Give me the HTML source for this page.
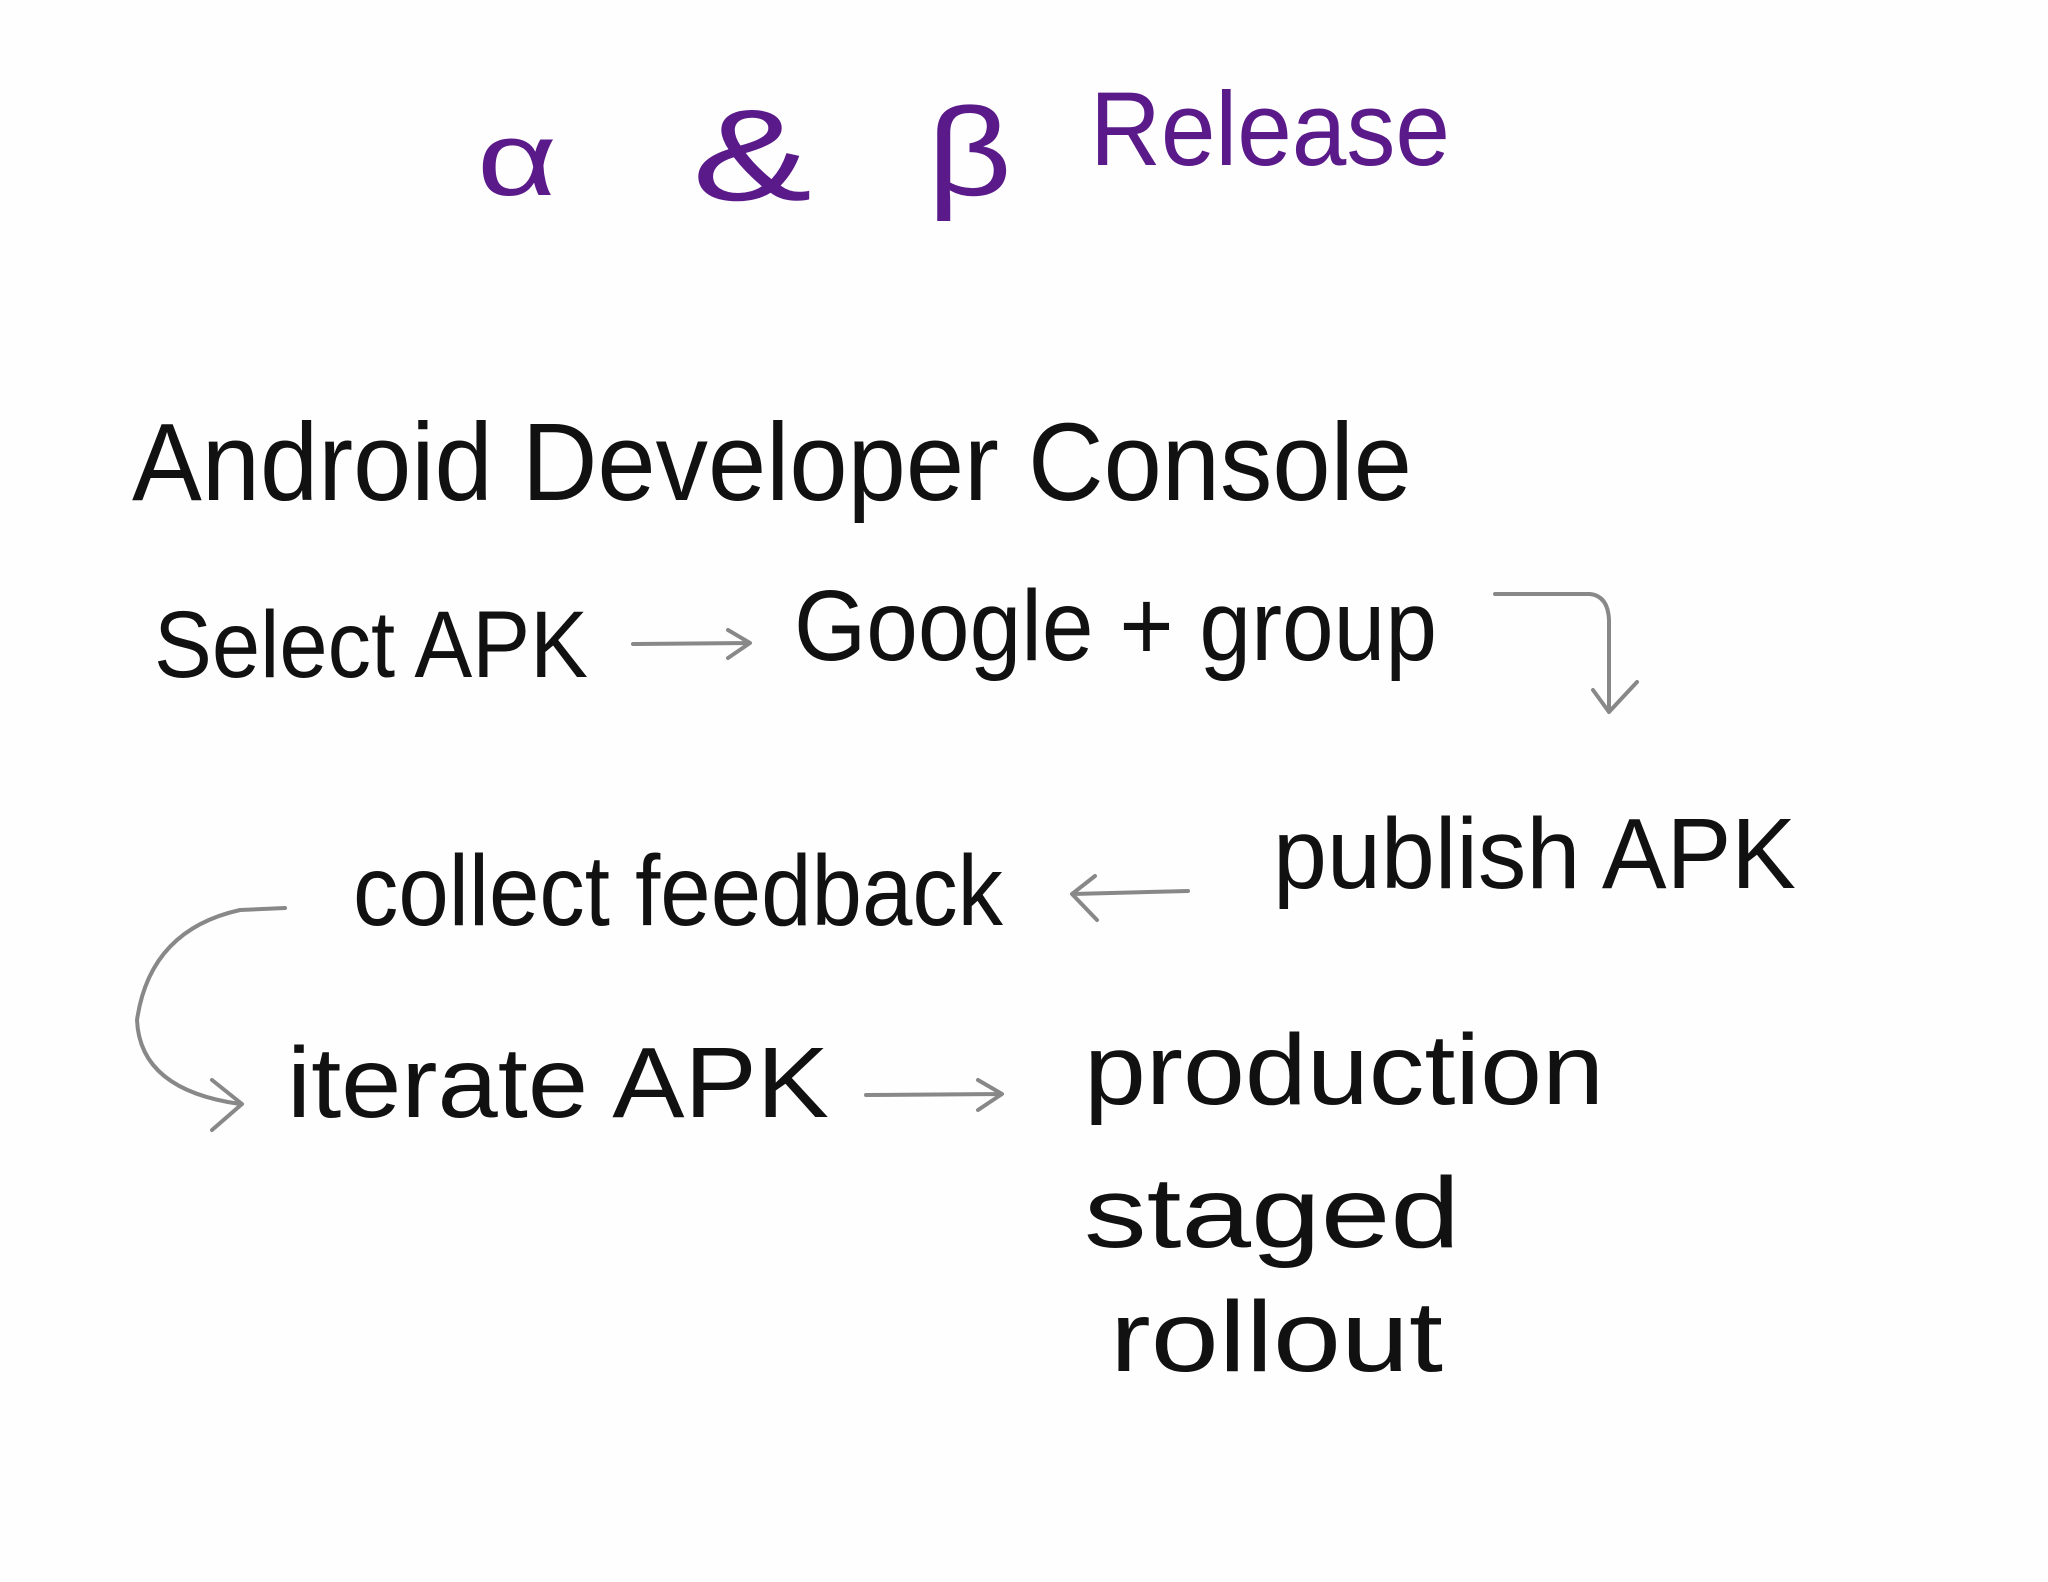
<!DOCTYPE html>
<html><head><meta charset="utf-8"><style>
html,body{margin:0;padding:0;background:#fefefe;}
svg{display:block}
text{font-family:"Liberation Sans",sans-serif;}
</style></head><body>
<svg width="2048" height="1582" viewBox="0 0 2048 1582" xmlns="http://www.w3.org/2000/svg">
<rect width="2048" height="1582" fill="#fefefe"/>
<g fill="#5a1a8a" font-size="105">
<text x="477" y="195" textLength="80" lengthAdjust="spacingAndGlyphs">α</text>
<text x="692" y="200" font-size="130" textLength="120" lengthAdjust="spacingAndGlyphs">&amp;</text>
<text x="927" y="195" font-size="125" textLength="85" lengthAdjust="spacingAndGlyphs">β</text>
<text x="1090" y="165" textLength="360" lengthAdjust="spacingAndGlyphs">Release</text>
</g>
<g fill="#111" font-size="110">
<text x="132" y="500" textLength="1280" lengthAdjust="spacingAndGlyphs">Android Developer Console</text>
<text x="154" y="677" font-size="95" textLength="434" lengthAdjust="spacingAndGlyphs">Select APK</text>
<text x="794" y="660" font-size="100" textLength="643" lengthAdjust="spacingAndGlyphs">Google + group</text>
<text x="1273" y="888" font-size="100" textLength="523" lengthAdjust="spacingAndGlyphs">publish APK</text>
<text x="353" y="925" font-size="100" textLength="650" lengthAdjust="spacingAndGlyphs">collect feedback</text>
<text x="287" y="1117" font-size="100" textLength="542" lengthAdjust="spacingAndGlyphs">iterate APK</text>
<text x="1084" y="1104" font-size="100" textLength="520" lengthAdjust="spacingAndGlyphs">production</text>
<text x="1084" y="1247" font-size="100" textLength="376" lengthAdjust="spacingAndGlyphs">staged</text>
<text x="1110" y="1371" font-size="100" textLength="333" lengthAdjust="spacingAndGlyphs">rollout</text>
</g>
<g stroke="#888" stroke-width="4" fill="none" stroke-linecap="round" stroke-linejoin="round">
<path d="M633 644 L749 643 M728 630 L750 643 L728 658"/>
<path d="M1495 594 L1590 594 Q1608 596 1609 620 L1609 712 M1593 690 L1609 712 L1637 682"/>
<path d="M1188 891 L1073 894 M1095 876 L1072 894 L1097 920"/>
<path d="M285 908 L240 910 Q150 930 137 1020 Q140 1090 240 1104 M212 1080 L242 1104 L212 1130"/>
<path d="M866 1095 L1001 1094 M978 1080 L1002 1094 L978 1110"/>
</g>
</svg>
</body></html>
